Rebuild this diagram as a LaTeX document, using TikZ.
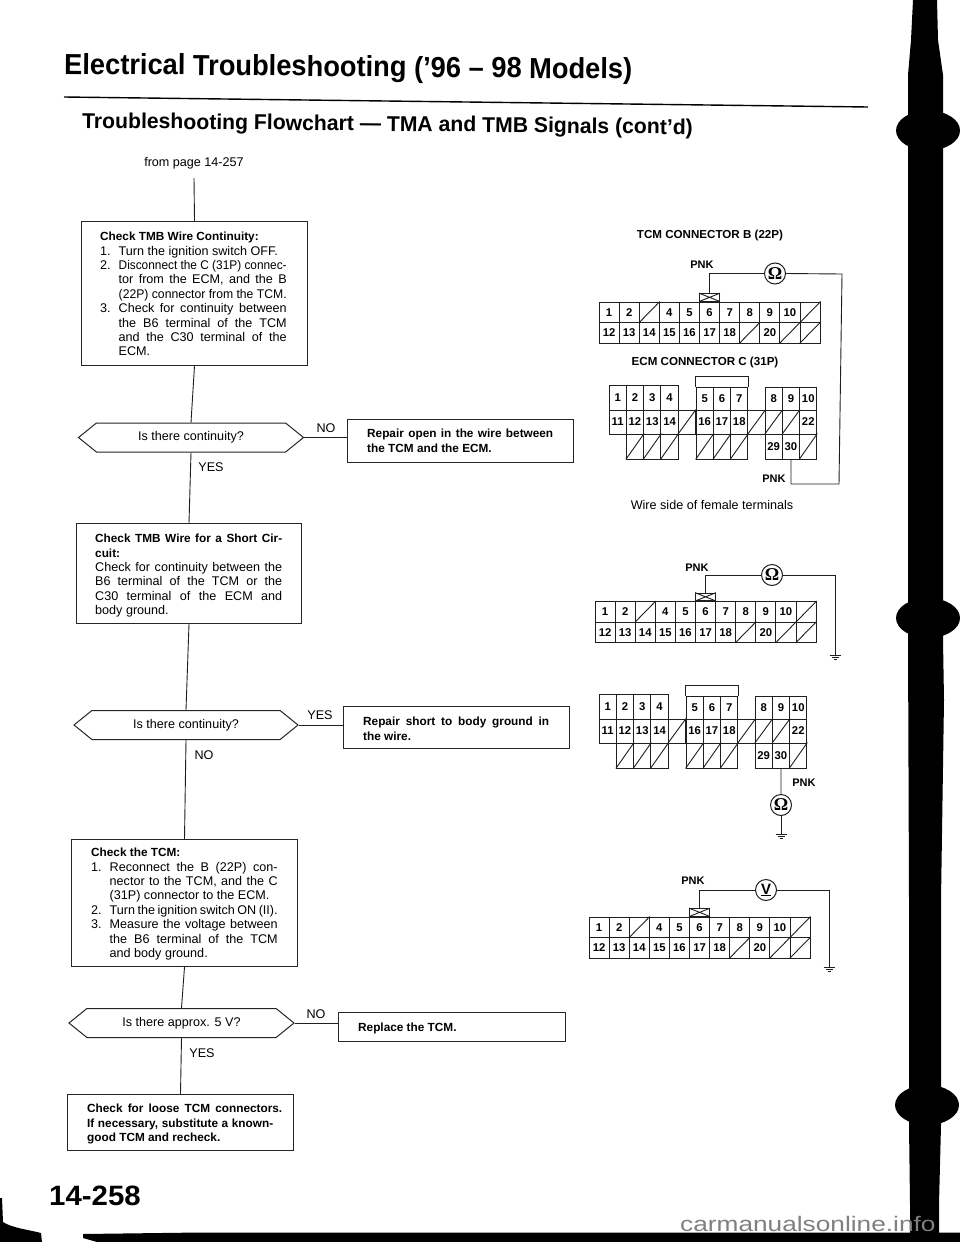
\documentclass[tikz,border=0pt]{standalone}
\usepackage{fontspec}
\setmainfont{Liberation Sans}
\newfontfamily\serifF{Liberation Serif}
\usetikzlibrary{shapes.symbols}
\newcommand\bt{\fontsize{12.6}{14.4}\selectfont}
\newcommand\btb{\fontsize{11.8}{14.4}\selectfont\bfseries}
\newcommand\jl[2]{\makebox[#1pt][s]{#2}}
\newcommand\lst[3]{\makebox[18.5pt][l]{#1}\makebox[#2pt][s]{#3}}
\newcommand\lsq[3]{\makebox[18.5pt][l]{#1}\resizebox{#2pt}{\height}{#3}}
\newcommand\lsn[2]{\makebox[18.5pt][l]{#1}#2}
\newcommand\cellrow[7]{% prefix,x,y,w,h,list,unused
  \foreach \n [count=\c from 0] in {#6} {
    \node[cellbox,minimum width=#4 pt,minimum height=#5 pt] (#1-\n) at ({#2+(\c+0.5)*#4},{#3+#5/2}) {\if x\n\else\n\fi};
    \if x\n \draw[wire] (#1-\n.south west) -- (#1-\n.north east);\fi
  }}
\newcommand\tcm[3]{% prefix,x,y
  \cellrow{#1}{#2}{#3}{20.1}{20.5}{1,2,x,4,5,6,7,8,9,10,x}{}
  \cellrow{#1}{#2}{#3+20.5}{20.1}{20.5}{12,13,14,15,16,17,18,x,20,x,x}{}
  \node[cellbox,minimum width=20.1pt,minimum height=7.5pt,anchor=south] (#1pin) at (#1-6.north) {};
  \draw[wire] (#1pin.south west) -- (#1pin.north east) (#1pin.north west) -- (#1pin.south east);
}
\newcommand\ecm[3]{% prefix,x,y
  \cellrow{#1}{#2}{#3}{17.3}{25}{1,2,3,4}{}
  \cellrow{#1}{#2}{#3+25}{17.3}{24}{11,12,13,14,x}{}
  \cellrow{#1}{#2+17.3}{#3+49}{17.3}{25}{x,x,x}{}
  \cellrow{#1}{#2+87}{#3+2}{17.3}{23}{5,6,7}{}
  \cellrow{#1}{#2+87}{#3+25}{17.3}{24}{16,17,18,x}{}
  \cellrow{#1}{#2+87}{#3+49}{17.3}{25}{x,x,x}{}
  \cellrow{#1}{#2+156}{#3+2}{17.3}{23}{8,9,10}{}
  \cellrow{#1}{#2+156}{#3+25}{17.3}{24}{x,x,22}{}
  \cellrow{#1}{#2+156}{#3+49}{17.3}{25}{29,30,x}{}
  \draw[wire] (#1-5.north west) -- ++(0,-10) -| (#1-7.north east);
}
\newcommand\gnd[2]{% name, at
  \coordinate (#1) at #2;
  \draw[wire] (#1) ++(-5.5,0) -- ++(11,0) (#1) ++(-3.5,2.2) -- ++(7,0) (#1) ++(-1.5,4.4) -- ++(3,0);
}
\tikzset{
  x=1pt,y=-1pt,
  wire/.style={line width=0.9pt,black!88},
  cellbox/.style={draw=black!88,line width=0.9pt,inner sep=0pt,font=\fontsize{11.3}{11.3}\selectfont\bfseries},
  fbox/.style={draw=black!85,line width=1pt,inner sep=0pt,anchor=north west},
  hexbox/.style={draw=black!85,line width=1pt,inner sep=0pt,shape=signal,signal to=west and east,signal pointer angle=78,font=\bt},
  txt/.style={inner sep=0pt,anchor=north west,align=left,font=\bt},
  txtb/.style={inner sep=0pt,anchor=north west,align=left,font=\btb},
  lab/.style={inner sep=0pt,font=\bt},
  pnk/.style={inner sep=0pt,font=\fontsize{11}{11}\selectfont\bfseries},
  meter/.style={circle,draw=black!88,line width=1pt,inner sep=0pt,minimum size=21pt},
  ohm/.style={font=\serifF\bfseries\fontsize{18}{18}\selectfont},
}
\begin{document}
\begin{tikzpicture}
\useasboundingbox (0,0) rectangle (960,1242);
\fill[white] (0,0) rectangle (960,1242);
% headings
\node[inner sep=0pt,anchor=base west,rotate=-0.5] (title) at (64,74) {\scalebox{0.94}[1]{\fontsize{29}{29}\selectfont\bfseries Electrical Troubleshooting ('96 -- 98 Models)}};
\draw[line width=1.4pt] (64,97) -- (868,107);
\node[inner sep=0pt,anchor=base west,rotate=-0.6] (subtitle) at (82,128) {\scalebox{0.985}[1]{\fontsize{21.5}{21.5}\selectfont\bfseries Troubleshooting Flowchart --- TMA and TMB Signals (cont'd)}};
\node[lab] (from) at (194,163) {from page 14-257};
\coordinate (fromend) at (194,178);
% flowchart boxes
\node[fbox,minimum width=226pt,minimum height=144pt] (b1) at (81,221) {};
\node[txt] (b1t) at (100,232) {{\btb Check TMB Wire Continuity:}\\
 \lsn{1.}{Turn the ignition switch OFF.}\\
 \lsq{2.}{168}{Disconnect the C (31P) connec-}\\
 \lst{}{168}{tor from the ECM, and the B}\\
 \lsq{}{168}{(22P) connector from the TCM.}\\
 \lst{3.}{168}{Check for continuity between}\\
 \lst{}{168}{the B6 terminal of the TCM}\\
 \lst{}{168}{and the C30 terminal of the}\\
 \lsn{}{ECM.}};
\node[hexbox,minimum width=225pt,minimum height=29pt] (h1) at (191,437.5) {Is there continuity?};
\node[fbox,minimum width=226pt,minimum height=43pt] (r1) at (347,419) {};
\node[txtb] (r1t) at (367,429) {\jl{186}{Repair open in the wire between}\\the TCM and the ECM.};
\node[fbox,minimum width=225pt,minimum height=100pt] (b2) at (76,523) {};
\node[txt] (b2t) at (95,534) {\jl{187}{\btb Check TMB Wire for a Short Cir-}\\
 {\btb cuit:}\\
 \jl{187}{Check for continuity between the}\\
 \jl{187}{B6 terminal of the TCM or the}\\
 \jl{187}{C30 terminal of the ECM and}\\
 body ground.};
\node[hexbox,minimum width=224pt,minimum height=29pt] (h2) at (186,725) {Is there continuity?};
\node[fbox,minimum width=226pt,minimum height=42pt] (r2) at (343,706) {};
\node[txtb] (r2t) at (363,717) {\jl{186}{Repair short to body ground in}\\the wire.};
\node[fbox,minimum width=226pt,minimum height=127pt] (b3) at (71,839) {};
\node[txt] (b3t) at (91,848) {{\btb Check the TCM:}\\
 \lst{1.}{168}{Reconnect the B (22P) con-}\\
 \lst{}{168}{nector to the TCM, and the C}\\
 \lsn{}{(31P) connector to the ECM.}\\
 \lst{2.}{168}{Turn the ignition switch ON (II).}\\
 \lst{3.}{168}{Measure the voltage between}\\
 \lst{}{168}{the B6 terminal of the TCM}\\
 \lsn{}{and body ground.}};
\node[hexbox,minimum width=225pt,minimum height=29pt] (h3) at (181.5,1023) {Is there approx. 5 V?};
\node[fbox,minimum width=227pt,minimum height=29pt] (r3) at (338,1012) {};
\node[txtb] (r3t) at (358,1023) {Replace the TCM.};
\node[fbox,minimum width=226pt,minimum height=56pt] (b4) at (67,1094) {};
\node[txtb] (b4t) at (87,1104) {\jl{195}{Check for loose TCM connectors.}\\\jl{186}{If necessary, substitute a known-}\\good TCM and recheck.};
% flowchart connectors
\draw[wire] (fromend) -- (b1.north);
\draw[wire] (b1.south) -- (h1.north);
\draw[wire] (h1.south) -- (b2.north);
\draw[wire] (b2.south) -- (h2.north);
\draw[wire] (h2.south) -- (b3.north);
\draw[wire] (b3.south) -- (h3.north);
\draw[wire] (h3.south) -- (b4.north);
\draw[wire] (h1.east) -- (h1.east -| r1.west);
\draw[wire] (h2.east) -- (h2.east -| r2.west);
\draw[wire] (h3.east) -- (h3.east -| r3.west);
\node[lab] (l1) at (326,428) {NO};
\node[lab] (l2) at (211,467) {YES};
\node[lab] (l3) at (320,715) {YES};
\node[lab] (l4) at (204,755) {NO};
\node[lab] (l5) at (316,1014) {NO};
\node[lab] (l6) at (202,1053) {YES};
% connector block 1
\node[pnk,font=\fontsize{11.6}{12}\selectfont\bfseries] (ct1) at (710,235) {TCM CONNECTOR B (22P)};
\tcm{ta}{599}{302}
\node[pnk,font=\fontsize{11.6}{12}\selectfont\bfseries] (ct2) at (705,362) {ECM CONNECTOR C (31P)};
\ecm{ea}{609}{385}
\node[meter,ohm] (ma) at (775,273.5) {Ω};
\coordinate (ca) at (842,274);
\coordinate (cb) at (839,484);
\draw[wire] (tapin.north) |- (ma.west);
\draw[wire] (ma.east) -- (ca) -- (cb) -| (ea-30.south);
\node[pnk] (pa) at (702,265) {PNK};
\node[pnk] (pb) at (774,479) {PNK};
\node[lab] (ws) at (712,505) {Wire side of female terminals};
% connector block 2
\tcm{tb}{595}{601.5}
\node[meter,ohm] (mb) at (772,575) {Ω};
\gnd{ga}{(835,655)}
\draw[wire] (tbpin.north) |- (mb.west);
\draw[wire] (mb.east) -| (ga);
\node[pnk] (pc) at (697,568) {PNK};
\ecm{eb}{599}{694}
\node[meter,ohm] (mc) at (781,805) {Ω};
\gnd{gb}{(781,834)}
\draw[wire] (eb-30.south) -- (mc.north);
\draw[wire] (mc.south) -- (gb);
\node[pnk] (pd) at (804,783) {PNK};
% connector block 3
\tcm{tc}{589}{917}
\node[meter] (md) at (766,890) {\bfseries\fontsize{15}{15}\selectfont\underline{V}};
\gnd{gc}{(829,967)}
\draw[wire] (tcpin.north) |- (md.west);
\draw[wire] (md.east) -| (gc);
\node[pnk] (pe) at (693,881) {PNK};
% page number
\node[inner sep=0pt,anchor=base west] (pg) at (49,1205) {\scalebox{1.05}[1]{\fontsize{28}{28}\selectfont\bfseries 14-258}};
% binder edge
\fill[black] (913,0) -- (937,0) -- (938,40) -- (943,75) -- (943,640) -- (944,700) -- (941,900) -- (941,1125) -- (939,1204) -- (939,1242) -- (910,1242) -- (910,1204) -- (909,1125) -- (909,900) -- (908,640) -- (908,75) -- (911,40) -- cycle;
\fill[black] (928,130.5) ellipse (32pt and 20pt);
\fill[black] (928,618) ellipse (32pt and 20pt);
\fill[black] (927,1105) ellipse (32pt and 20pt);
\fill[black] (83,1234) -- (200,1232.5) -- (960,1232.5) -- (960,1242) -- (97,1242) -- (83,1238) -- cycle;
\fill[black] (0,1198) -- (2,1198) -- (3,1222) .. controls (12,1228) and (30,1230) .. (41,1233) -- (42,1242) -- (0,1242) -- cycle;
\node[inner sep=0pt,anchor=base west,text=black!50] (wm) at (680,1231) {\scalebox{1.25}[1]{\fontsize{21}{21}\selectfont carmanualsonline.info}};
\end{tikzpicture}
\end{document}
